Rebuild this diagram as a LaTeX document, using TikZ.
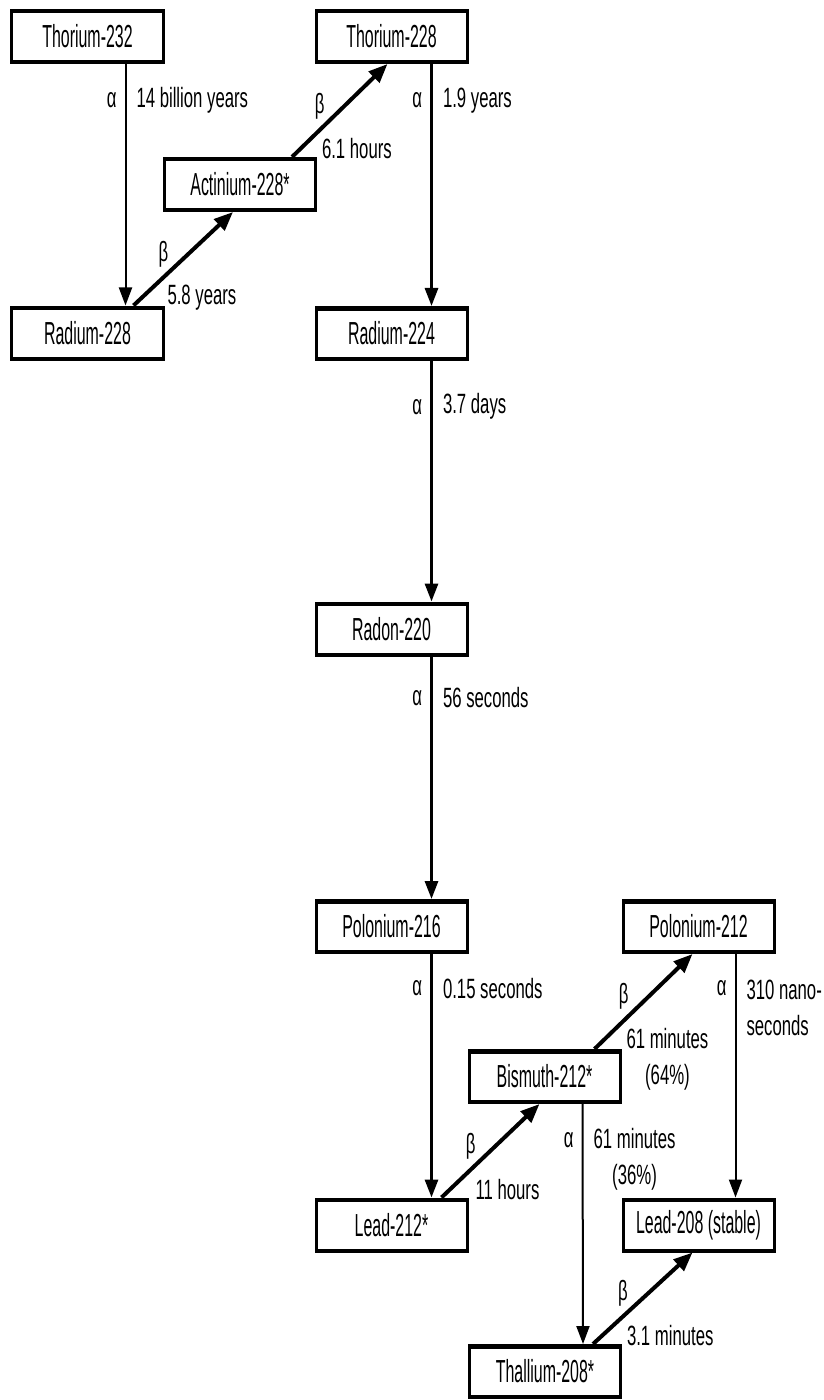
\documentclass[tikz,border=0pt]{standalone}
\usepackage{fontspec}
\setmainfont{Liberation Sans}[FakeStretch=0.5]
\newfontfamily\notefont{Liberation Sans}[FakeStretch=0.6]
\usetikzlibrary{arrows.meta}
\tikzset{
  nuclide/.style={draw, line width=3bp, minimum width=151bp, minimum height=52bp, inner sep=0pt,
    font=\fontsize{32}{36}\selectfont,
    path picture={
      \fill (path picture bounding box.north west) rectangle ([yshift=-3bp]path picture bounding box.north east);
      \fill (path picture bounding box.south west) rectangle ([yshift=2.5bp]path picture bounding box.south east);}},
  decay/.style={-{Triangle[length=18bp, width=13bp]}, line width=#1},
  decay/.default=2bp,
  betadecay/.style={-{Triangle[length=19bp, width=15bp]}, line width=4bp},
  note/.style={font=\notefont\fontsize{28}{36}\selectfont, inner sep=2bp},
}

\begin{document}
\begin{tikzpicture}[x=1bp, y=-1bp]
  \useasboundingbox (0,0) rectangle (823,1400);
  % nuclides
  \node[nuclide] (th232) at (87.5,36.5) {Thorium-232};
  \node[nuclide] (th228) at (391.5,36.5) {Thorium-228};
  \node[nuclide] (ac228) at (240,184.5) {Actinium-228*};
  \node[nuclide] (ra228) at (87.5,333) {Radium-228};
  \node[nuclide] (ra224) at (391.5,333.5) {Radium-224};
  \node[nuclide] (rn220) at (391.5,629) {Radon-220};
  \node[nuclide] (po216) at (391.5,926.5) {Polonium-216};
  \node[nuclide] (po212) at (698.5,926.5) {Polonium-212};
  \node[nuclide] (bi212) at (544.5,1076.5) {Bismuth-212*};
  \node[nuclide] (pb212) at (391.5,1225) {Lead-212*};
  \node[nuclide] (pb208) at (698.5,1225) {Lead-208 (stable)};
  \node[nuclide] (tl208) at (545,1371.5) {Thallium-208*};
  % alpha decays
  \draw[decay] ([xshift=38bp]th232.south) -- ([xshift=38bp]ra228.north)
    node[note, pos=0.15, left=6bp] {α} node[note, pos=0.15, right=8bp] {14 billion years};
  \draw[decay=3bp] ([xshift=40bp]th228.south) -- ([xshift=40bp]ra224.north)
    node[note, pos=0.15, left=6bp] {α} node[note, pos=0.15, right=8bp] {1.9 years};
  \draw[decay=3bp] ([xshift=40bp]ra224.south) -- ([xshift=40bp]rn220.north)
    node[note, pos=0.19, left=6bp] {α} node[note, pos=0.19, right=8bp] {3.7 days};
  \draw[decay=3bp] ([xshift=40bp]rn220.south) -- ([xshift=40bp]po216.north)
    node[note, pos=0.17, left=6bp] {α} node[note, pos=0.17, right=8bp] {56 seconds};
  \draw[decay=3bp] ([xshift=40bp]po216.south) -- ([xshift=40bp]pb212.north)
    node[note, pos=0.14, left=6bp] {α} node[note, pos=0.14, right=8bp] {0.15 seconds};
  \draw[decay] ([xshift=37bp]po212.south) -- ([xshift=37bp]pb208.north)
    node[note, pos=0.14, left=6bp] {α} node[note, pos=0.22, right=8bp, align=left] {310 nano-\\seconds};
  \draw[decay] ([xshift=38bp]bi212.south) -- ([xshift=38bp]tl208.north)
    node[note, pos=0.15, left=6bp] {α} node[note, pos=0.23, right=8bp, align=center] {61 minutes\\(36\%)};
  % beta decays
  \draw[betadecay] ([xshift=46bp]ra228.north) -- ([xshift=-7bp]ac228.south)
    node[note, pos=0.55, left=16bp] {β} node[note, pos=0, anchor=west, xshift=30bp, yshift=8bp] {5.8 years};
  \draw[betadecay] ([xshift=52bp]ac228.north) -- ([xshift=-4bp]th228.south)
    node[note, pos=0.55, left=16bp] {β} node[note, pos=0, anchor=west, xshift=26bp, yshift=8bp] {6.1 hours};
  \draw[betadecay] ([xshift=50bp]pb212.north) -- ([xshift=-5bp]bi212.south)
    node[note, pos=0.55, left=16bp] {β} node[note, pos=0, anchor=west, xshift=30bp, yshift=8bp] {11 hours};
  \draw[betadecay] ([xshift=50bp]bi212.north) -- ([xshift=-6bp]po212.south)
    node[note, pos=0.55, left=16bp] {β} node[note, pos=0, anchor=west, xshift=28bp, yshift=-10bp, align=center] {61 minutes\\(64\%)};
  \draw[betadecay] ([xshift=48bp]tl208.north) -- ([xshift=-6bp]pb208.south)
    node[note, pos=0.55, left=16bp] {β} node[note, pos=0, anchor=west, xshift=30bp, yshift=8bp] {3.1 minutes};
\end{tikzpicture}
\end{document}
